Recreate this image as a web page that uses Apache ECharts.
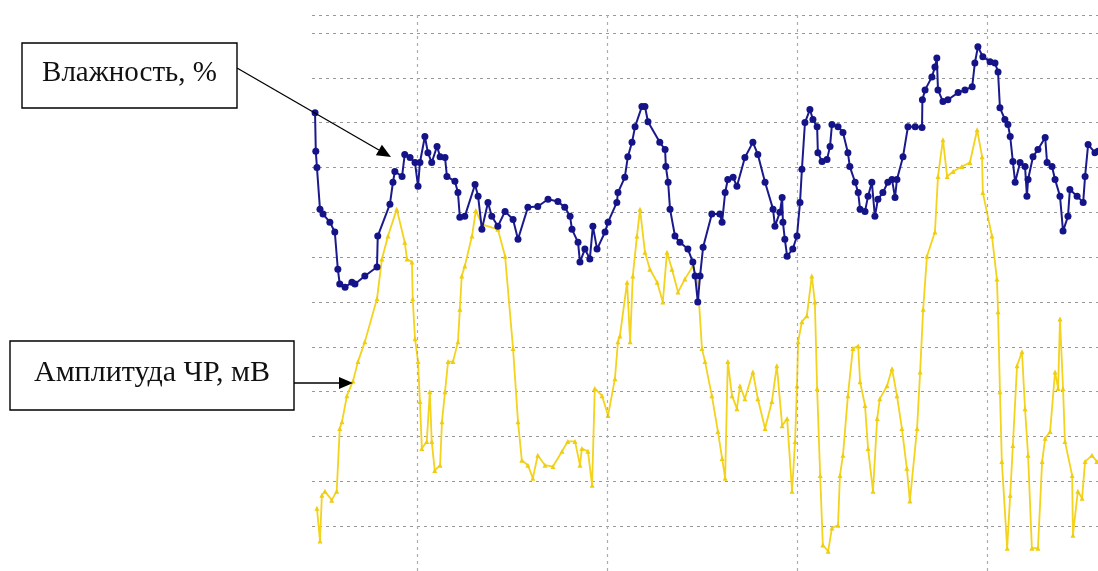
<!DOCTYPE html>
<html>
<head>
<meta charset="utf-8">
<script src="https://cdn.jsdelivr.net/npm/echarts@6/dist/echarts.min.js"></script>
<style>
  html, body { margin: 0; padding: 0; background: #ffffff; }
  #chart { width: 1098px; height: 571px; }
</style>
</head>
<body>
<div id="chart"></div>
<script>
// Humidity, % — [time, value]
const humidity = [
  [23.2,102.2],[23.4,93.6],[23.7,90.0],[24.5,80.7],[25.3,79.6],[27.1,77.8],[28.4,75.6],[29.2,67.3],
  [29.7,64.0],[31.1,63.3],[32.9,64.4],[33.7,64.0],[36.3,65.8],[39.5,67.8],[39.7,74.7],[42.9,81.8],
  [43.7,86.7],[44.2,89.1],[46.1,88.0],[46.8,92.9],[48.2,92.2],[49.5,91.1],[50.3,85.8],[50.8,91.1],
  [52.1,96.9],[52.9,93.3],[53.9,91.1],[55.3,94.7],[56.1,92.4],[57.4,92.2],[57.9,88.0],[60.0,86.9],
  [60.8,84.4],[61.3,78.9],[62.6,79.1],[65.3,86.2],[66.1,83.6],[67.1,76.2],[68.7,82.2],[69.7,79.1],
  [71.3,76.9],[73.2,80.2],[75.3,78.4],[76.6,74.0],[79.2,81.1],[81.8,81.3],[84.5,82.9],[87.1,82.4],
  [88.9,81.1],[90.3,79.1],[90.8,76.2],[92.4,73.3],[92.9,68.9],[94.2,71.8],[95.5,69.6],[96.3,76.9],
  [97.4,71.8],[99.5,75.6],[100.3,77.8],[102.6,82.2],[102.9,84.4],[104.7,87.8],[105.5,92.4],[106.6,95.6],
  [107.4,99.1],[109.2,103.6],[110.0,103.6],[110.8,100.2],[113.9,95.6],[115.3,94.0],[115.5,90.2],[116.1,86.7],
  [116.6,80.7],[117.9,74.7],[119.2,73.3],[121.3,71.8],[122.6,68.9],[123.2,65.8],[123.9,60.0],[124.5,65.8],
  [125.3,72.2],[127.6,79.6],[129.7,79.6],[130.3,77.8],[131.1,84.4],[131.8,87.3],[133.2,87.8],[134.2,85.8],
  [136.3,92.2],[138.4,95.6],[139.7,92.9],[141.6,86.7],[143.7,80.7],[144.2,76.9],[145.5,80.0],[146.1,83.3],
  [146.3,77.8],[146.8,74.0],[147.4,70.2],[148.9,71.8],[150.0,74.7],[150.8,82.2],[151.3,89.6],[152.1,100.0],
  [153.4,102.9],[154.2,100.7],[155.3,99.1],[155.5,93.3],[156.6,91.3],[157.9,91.8],[158.7,94.7],[159.2,99.6],
  [160.8,99.1],[162.1,97.8],[163.4,93.3],[163.9,90.2],[165.3,86.7],[166.1,84.4],[166.6,80.7],[167.9,80.2],
  [168.7,83.6],[169.7,86.7],[170.5,79.1],[171.3,82.9],[172.6,84.4],[173.9,86.7],[175.0,87.3],[175.8,83.3],
  [176.3,87.3],[177.9,92.4],[179.2,99.1],[181.1,99.1],[182.9,98.9],[183.0,105.1],[183.7,107.3],[185.5,110.2],
  [186.3,112.4],[186.8,114.4],[187.1,107.3],[188.4,104.7],[189.7,105.1],[192.4,106.7],[194.2,107.3],[196.1,108.0],
  [196.8,113.3],[197.6,116.9],[198.9,114.7],[200.8,113.6],[202.1,113.3],[202.9,111.3],[203.4,103.3],[204.7,100.7],
  [205.5,99.6],[206.1,96.9],[206.8,91.3],[207.4,86.7],[208.7,91.1],[210.0,90.2],[210.5,83.6],[210.8,87.3],
  [212.1,92.4],[213.4,94.0],[215.3,96.7],[215.8,91.1],[217.1,90.2],[217.9,87.3],[219.2,83.6],[220.0,75.8],
  [221.3,79.1],[221.8,85.1],[223.7,83.6],[225.3,82.2],[225.8,88.0],[226.6,95.1],[228.4,93.3],[229.2,93.6]
];

// PD amplitude, mV — [time, value]
const amplitude = [
  [23.7,14.0],[24.5,6.7],[25.0,16.9],[25.8,17.8],[27.6,15.8],[28.9,17.8],[29.7,31.8],[30.3,33.3],
  [31.6,39.1],[33.2,42.4],[34.5,46.7],[36.3,51.1],[39.5,60.7],[40.8,69.6],[42.4,74.7],[44.7,80.7],
  [46.8,73.3],[47.4,69.6],[48.7,68.9],[48.9,60.7],[49.5,51.8],[50.3,46.7],[50.8,37.8],[51.3,27.3],
  [52.6,28.9],[53.4,40.0],[53.9,28.9],[54.7,22.4],[56.1,23.6],[56.6,33.3],[57.4,40.0],[58.2,46.7],
  [59.5,46.7],[60.8,51.1],[61.3,58.4],[61.8,65.8],[62.6,68.0],[64.5,74.7],[65.5,80.4],[67.1,77.3],
  [71.3,76.2],[73.2,70.2],[75.3,49.6],[76.6,33.3],[77.6,24.7],[79.2,23.6],[80.5,20.7],[81.8,25.8],
  [83.7,23.6],[85.8,23.3],[88.2,26.7],[89.7,28.9],[91.6,28.9],[92.9,23.6],[93.4,27.3],[95.0,26.7],
  [96.1,19.1],[96.8,40.7],[98.7,39.1],[100.3,34.7],[102.1,42.9],[102.9,51.1],[103.4,52.4],[105.3,64.4],
  [106.1,51.1],[106.8,65.8],[107.9,74.7],[108.7,80.7],[110.0,71.1],[111.3,67.3],[113.2,64.4],[114.7,60.0],
  [115.8,71.1],[117.1,67.3],[118.7,62.2],[120.5,65.1],[122.6,68.0],[123.9,64.4],[125.0,49.6],[125.8,46.7],
  [127.6,39.1],[129.2,31.1],[130.3,25.1],[131.1,20.7],[131.8,46.7],[132.9,39.1],[134.2,36.2],[135.0,41.3],
  [136.3,38.4],[138.4,44.4],[139.7,38.4],[141.6,31.8],[143.4,37.8],[144.7,45.8],[146.1,32.4],[147.4,34.0],
  [148.7,17.8],[149.5,28.9],[150.0,41.3],[150.3,51.1],[151.3,55.6],[152.6,56.9],[153.9,65.8],[154.7,60.0],
  [155.3,40.7],[156.1,21.3],[156.8,5.8],[158.2,4.4],[159.2,9.6],[160.8,10.2],[161.3,21.3],[162.1,25.8],
  [163.4,39.1],[164.7,49.6],[166.1,50.2],[166.6,42.2],[167.9,36.9],[168.7,27.3],[170.0,17.8],[171.1,34.0],
  [171.8,38.4],[173.7,41.3],[175.0,45.1],[176.3,39.1],[177.6,31.8],[178.9,22.9],[179.7,15.6],[181.6,31.8],
  [182.4,44.4],[183.2,58.4],[184.2,70.2],[186.3,75.6],[187.1,88.0],[188.4,96.2],[189.5,88.0],[191.1,89.1],
  [193.4,90.2],[195.5,91.1],[197.4,98.4],[198.7,92.4],[198.9,84.4],[201.3,74.7],[202.6,65.1],[202.9,57.8],
  [203.4,40.0],[203.9,24.4],[205.3,5.1],[206.1,16.9],[206.8,28.0],[207.9,45.8],[209.2,48.9],[210.0,36.2],
  [210.8,25.8],[211.8,5.1],[213.4,5.1],[214.5,24.4],[215.3,29.6],[216.6,31.1],[217.9,44.4],[218.7,40.7],
  [219.2,56.2],[220.0,40.7],[220.5,28.9],[222.4,21.3],[222.6,8.0],[223.9,17.8],[225.0,16.2],[225.8,24.4],
  [227.6,25.8],[228.9,24.4]
];

// Time marks for the vertical grid lines
const timeMarks = [50, 100, 150, 200];

// Callout captions
const humidityLabel = 'Влажность, %';
const amplitudeLabel = 'Амплитуда ЧР, мВ';

const chart = echarts.init(document.getElementById('chart'), null, { renderer: 'canvas' });

const gridDash = { color: '#999999', width: 1, type: [3, 4] };

// Builds a straight arrow: a shaft plus a filled triangular head at (x2, y2)
function arrow(x1, y1, x2, y2) {
  const len = 14, half = 6;
  const ang = Math.atan2(y2 - y1, x2 - x1);
  const bx = x2 - len * Math.cos(ang), by = y2 - len * Math.sin(ang);
  const nx = -Math.sin(ang) * half, ny = Math.cos(ang) * half;
  return [
    { type: 'line', shape: { x1: x1, y1: y1, x2: bx, y2: by }, style: { stroke: '#000', lineWidth: 1.3 }, z: 100 },
    { type: 'polygon', shape: { points: [[x2, y2], [bx + nx, by + ny], [bx - nx, by - ny]] }, style: { fill: '#000' }, z: 100 }
  ];
}

function callout(x, y, w, h, text, size) {
  return [
    { type: 'rect', shape: { x: x, y: y, width: w, height: h }, style: { fill: '#fff', stroke: '#000', lineWidth: 1.4 }, z: 100 },
    { type: 'text', x: x + w / 2, y: y + h / 2 - 2, style: { text: text, font: size + 'px "Liberation Serif", serif', fill: '#111', align: 'center', verticalAlign: 'middle' }, z: 101 }
  ];
}

chart.setOption({
  animation: false,
  backgroundColor: '#ffffff',
  grid: { left: 312, right: 0, top: 15, bottom: -2 },
  xAxis: {
    type: 'value', min: 22.4, max: 229.2,
    axisLine: { show: false }, axisTick: { show: false }, axisLabel: { show: false },
    splitLine: { show: false }
  },
  yAxis: {
    type: 'value', min: 0, max: 124, interval: 10,
    axisLine: { show: false }, axisTick: { show: false }, axisLabel: { show: false },
    splitLine: { show: true, lineStyle: gridDash }
  },
  series: [
    {
      type: 'line', data: [], z: 1, silent: true,
      markLine: {
        silent: true, symbol: ['none', 'none'], label: { show: false },
        lineStyle: { color: '#aaaab8', width: 1.2, type: [3, 4] },
        data: timeMarks.map(function (t) { return { xAxis: t }; })
      }
    },
    {
      name: amplitudeLabel, type: 'line', data: amplitude, z: 3,
      symbol: 'triangle', symbolSize: 5, showAllSymbol: true,
      lineStyle: { color: '#f3d31c', width: 1.8 },
      itemStyle: { color: '#efcd10' }
    },
    {
      name: humidityLabel, type: 'line', data: humidity, z: 5,
      symbol: 'circle', symbolSize: 7, showAllSymbol: true,
      lineStyle: { color: '#1a1a8c', width: 2 },
      itemStyle: { color: '#141488' }
    }
  ],
  graphic: [].concat(
    callout(22, 43, 215, 65, humidityLabel, 29),
    arrow(237, 68, 391, 157),
    callout(10, 341, 284, 69, amplitudeLabel, 30),
    arrow(294, 383, 353, 383)
  )
});
</script>
</body>
</html>
